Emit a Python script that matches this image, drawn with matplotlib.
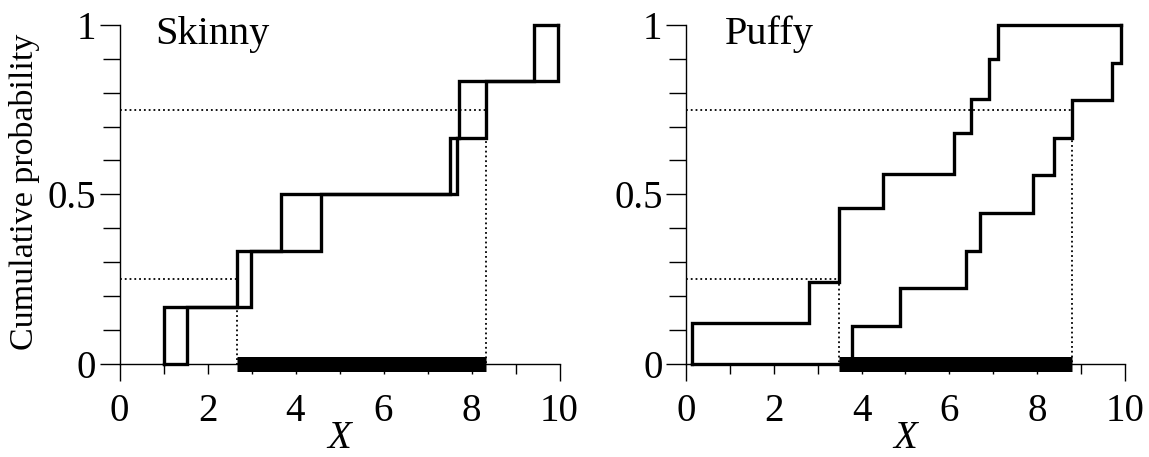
import numpy as np
import matplotlib
matplotlib.use("Agg")
import matplotlib.pyplot as plt
from matplotlib.ticker import FixedLocator, FixedFormatter, NullFormatter

plt.rcParams['font.family'] = 'serif'
plt.rcParams['font.serif'] = ['Liberation Serif', 'TeX Gyre Termes', 'Tinos', 'DejaVu Serif']

# ---- data ----
panel_titles = ["Skinny", "Puffy"]

# Skinny p-box: jump locations of the left (upper) and right (lower) bounds
skinny_upper_x = [1.00, 2.66, 3.67, 7.52, 7.72, 9.43]
skinny_upper_p = [1/6, 2/6, 3/6, 4/6, 5/6, 1.0]
skinny_lower_x = [1.54, 2.98, 4.58, 7.66, 8.33, 9.97]
skinny_lower_p = [1/6, 2/6, 3/6, 4/6, 5/6, 1.0]

# Puffy p-box
puffy_upper_x = [0.14, 2.79, 3.49, 4.49, 6.10, 6.50, 6.90, 7.10]
puffy_upper_p = [0.12, 0.24, 0.46, 0.56, 0.68, 0.78, 0.90, 1.0]
puffy_lower_x = [3.78, 4.88, 6.39, 6.71, 7.90, 8.39, 8.79, 9.72, 9.92]
puffy_lower_p = [1/9, 2/9, 3/9, 4/9, 5/9, 6/9, 7/9, 8/9, 1.0]

quantile_levels = [0.25, 0.75]

x_end_ticks = [0, 10]
x_end_labels = ["0", "10"]
x_inner_ticks = [1, 2, 3, 4, 5, 6, 7, 8, 9]
x_inner_labels = ["", "2", "", "4", "", "6", "", "8", ""]
y_ticks_labeled = [0, 0.5, 1]
y_tick_labels = ["0", "0.5", "1"]
y_minor_ticks = [0.1, 0.2, 0.3, 0.4, 0.6, 0.7, 0.8, 0.9]

panels = [
    (skinny_upper_x, skinny_upper_p, skinny_lower_x, skinny_lower_p),
    (puffy_upper_x, puffy_upper_p, puffy_lower_x, puffy_lower_p),
]

W, H = 1149, 457
fig = plt.figure(figsize=(W / 100, H / 100), dpi=100)

axes_px = [(119.5, 440.0), (686.2, 438.5)]
y0_px, y1_px = 363.5, 25.0
title_x = [0.81, 0.885]

for k, ((ux, up, lx, lp), (left_px, width_px)) in enumerate(zip(panels, axes_px)):
    ax = fig.add_axes([left_px / W, (H - y0_px) / H, width_px / W, (y0_px - y1_px) / H])
    ax.set_xlim(0, 10)
    ax.set_ylim(0, 1)

    # upper (left) bound
    xs_u, ys_u = [], []
    prev = 0.0
    for xi, pi in zip(ux, up):
        xs_u += [xi, xi]
        ys_u += [prev, pi]
        prev = pi
    xs_u.append(lx[-1])
    ys_u.append(1.0)

    # lower (right) bound
    xs_l = [ux[0]]
    ys_l = [0.0]
    prev = 0.0
    for xi, pi in zip(lx, lp):
        xs_l += [xi, xi]
        ys_l += [prev, pi]
        prev = pi

    ax.plot(xs_u, ys_u, color='black', lw=2.4, clip_on=False, zorder=4,
            solid_joinstyle='miter')
    ax.plot(xs_l, ys_l, color='black', lw=2.4, clip_on=False, zorder=4,
            solid_joinstyle='miter')

    # quantiles
    q_lo = next(x for x, p in zip(ux, up) if p >= quantile_levels[0])
    q_hi = next(x for x, p in zip(lx, lp) if p >= quantile_levels[1])
    ax.plot([0, q_lo, q_lo], [quantile_levels[0], quantile_levels[0], 0],
            color='black', lw=1.3, ls=':', zorder=3)
    ax.plot([0, q_hi, q_hi], [quantile_levels[1], quantile_levels[1], 0],
            color='black', lw=1.3, ls=':', zorder=3)
    ax.plot([q_lo, q_hi], [0, 0], color='black', lw=10.8,
            solid_capstyle='butt', clip_on=False, zorder=5)

    for s in ['top', 'right']:
        ax.spines[s].set_visible(False)
    for s in ['left', 'bottom']:
        ax.spines[s].set_linewidth(1.0)

    # x ticks: long ticks at the ends, short in between; labels on evens
    ax.xaxis.set_major_locator(FixedLocator(x_end_ticks))
    ax.xaxis.set_major_formatter(FixedFormatter(x_end_labels))
    ax.xaxis.set_minor_locator(FixedLocator(x_inner_ticks))
    ax.xaxis.set_minor_formatter(FixedFormatter(x_inner_labels))
    ax.tick_params(axis='x', which='major', direction='out', length=12, width=1.0,
                   pad=9.0, labelsize=28)
    ax.tick_params(axis='x', which='minor', direction='out', length=7, width=1.0,
                   pad=14.0, labelsize=28)

    ax.yaxis.set_major_locator(FixedLocator(y_ticks_labeled))
    ax.yaxis.set_major_formatter(FixedFormatter(y_tick_labels))
    ax.yaxis.set_minor_locator(FixedLocator(y_minor_ticks))
    ax.yaxis.set_minor_formatter(NullFormatter())
    ax.tick_params(axis='y', which='major', direction='out', length=14.5, width=1.0,
                   pad=2.5, labelsize=28)
    ax.tick_params(axis='y', which='minor', direction='out', length=12, width=1.0)

    ax.text(title_x[k], 0.944, panel_titles[k], fontsize=29, ha='left', va='baseline')

    cx = (left_px + width_px / 2) / W
    fig.text(cx, 9 / H, "X", fontsize=28, fontstyle='italic', ha='center',
             va='baseline')

fig.text(25 / W, 1 - 192 / H, "Cumulative probability", fontsize=24.5,
         rotation=90, ha='center', va='center')

fig.savefig("out.png", dpi=100)
